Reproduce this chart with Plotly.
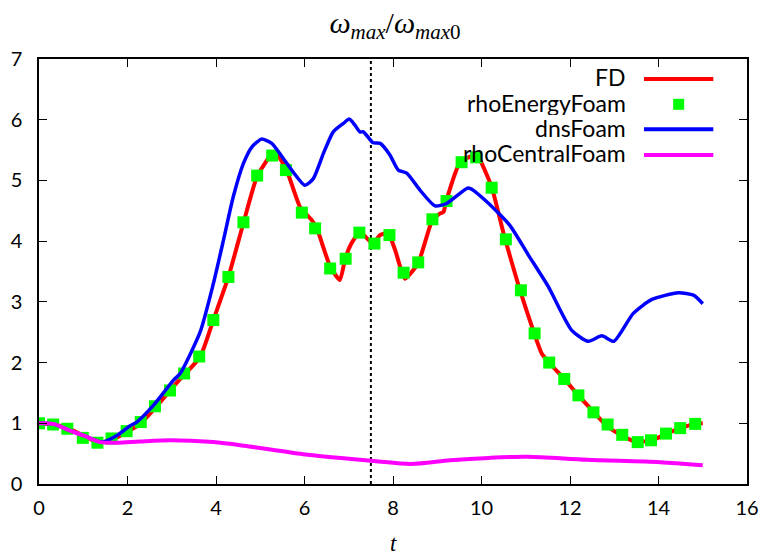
import plotly.graph_objects as go

# ---------------- data ----------------
fd_t = [0.0, 0.32, 0.65, 1.0, 1.35, 1.65, 2.0, 2.3, 2.62, 2.96, 3.19, 3.64, 3.94, 4.28, 4.62, 4.93,
        5.26, 5.37, 5.60, 5.90, 6.16, 6.28, 6.58, 6.80, 6.92, 7.05, 7.25, 7.45, 7.55, 7.71, 7.89,
        8.05, 8.27, 8.57, 8.89, 9.05, 9.14, 9.21, 9.51, 9.85, 9.97, 10.23, 10.53, 10.87, 11.2,
        11.36, 11.55, 11.87, 12.19, 12.53, 12.83, 13.17, 13.51, 13.85, 14.19, 14.5, 14.82, 15.0]
fd_v = [1.0, 0.98, 0.92, 0.80, 0.68, 0.73, 0.86, 1.0, 1.25, 1.54, 1.73, 2.09, 2.70, 3.41, 4.30, 5.07,
        5.43, 5.44, 5.16, 4.56, 4.35, 4.21, 3.58, 3.36, 3.71, 3.95, 4.15, 4.02, 3.96, 4.10, 4.13,
        3.85, 3.38, 3.64, 4.35, 4.45, 4.48, 4.68, 5.29, 5.42, 5.33, 4.89, 4.04, 3.19, 2.46,
        2.15, 1.98, 1.73, 1.46, 1.19, 0.96, 0.80, 0.69, 0.72, 0.83, 0.92, 0.99, 1.0]

rhoE_t = [0.0, 0.32, 0.64, 0.99, 1.32, 1.64, 1.98, 2.30, 2.62, 2.96, 3.28, 3.62, 3.94, 4.28, 4.62,
          4.93, 5.27, 5.58, 5.94, 6.24, 6.58, 6.93, 7.24, 7.58, 7.92, 8.24, 8.57, 8.89, 9.21, 9.55,
          9.88, 10.23, 10.55, 10.89, 11.20, 11.53, 11.87, 12.19, 12.53, 12.85, 13.18, 13.53, 13.83,
          14.17, 14.49, 14.83]
rhoE_v = [1.0, 0.98, 0.91, 0.76, 0.68, 0.75, 0.87, 1.02, 1.28, 1.54, 1.82, 2.10, 2.70, 3.41, 4.31,
          5.08, 5.41, 5.17, 4.47, 4.21, 3.55, 3.71, 4.14, 3.96, 4.10, 3.48, 3.65, 4.36, 4.66, 5.30,
          5.38, 4.88, 4.03, 3.19, 2.48, 2.00, 1.73, 1.46, 1.18, 0.98, 0.81, 0.69, 0.72, 0.83, 0.92,
          0.99]

dns_t = [0.0, 0.32, 0.70, 1.0, 1.42, 1.76, 2.06, 2.21, 2.58, 3.04, 3.19, 3.64, 3.94, 4.17, 4.39, 4.62,
         4.81, 5.03, 5.26, 5.60, 6.01, 6.20, 6.43, 6.65, 6.88, 7.01, 7.14, 7.25, 7.33, 7.55, 7.71,
         7.93, 8.12, 8.31, 8.61, 8.95, 9.21, 9.67, 9.74, 10.12, 10.64, 11.06, 11.51, 12.04, 12.41,
         12.72, 12.99, 13.43, 13.85, 14.45, 14.79, 15.0]
dns_v = [1.0, 0.99, 0.88, 0.80, 0.69, 0.80, 0.96, 1.02, 1.29, 1.71, 1.82, 2.50, 3.30, 4.02, 4.73, 5.28,
         5.55, 5.68, 5.61, 5.28, 4.92, 5.03, 5.45, 5.80, 5.94, 6.01, 5.91, 5.80, 5.80, 5.62, 5.61,
         5.42, 5.17, 5.12, 4.84, 4.58, 4.62, 4.87, 4.87, 4.65, 4.26, 3.77, 3.25, 2.53, 2.35,
         2.44, 2.35, 2.81, 3.04, 3.15, 3.11, 2.97]

rhoC_t = [0.0, 0.32, 0.70, 1.0, 1.38, 1.76, 2.28, 2.96, 3.94, 4.64, 5.97, 7.57, 8.40, 9.29, 10.17,
          11.05, 12.38, 14.03, 15.0]
rhoC_v = [1.0, 0.99, 0.88, 0.80, 0.69, 0.68, 0.70, 0.72, 0.69, 0.63, 0.49, 0.38, 0.33, 0.39, 0.43,
          0.45, 0.40, 0.36, 0.31]

x_ticks = [0, 2, 4, 6, 8, 10, 12, 14, 16]
y_ticks = [0, 1, 2, 3, 4, 5, 6, 7]
marker_t = 7.5

names = ["FD", "rhoEnergyFoam", "dnsFoam", "rhoCentralFoam"]
RED, GREEN, BLUE, MAG = "#ff0000", "#00ff00", "#0000ff", "#ff00ff"

# ---------------- figure ----------------
fig = go.Figure()
fig.add_trace(go.Scatter(x=fd_t, y=fd_v, mode="lines", name=names[0],
                         line=dict(color=RED, width=4, shape="spline", smoothing=0.5)))
fig.add_trace(go.Scatter(x=rhoE_t, y=rhoE_v, mode="markers", name=names[1],
                         marker=dict(symbol="square", size=12, color=GREEN, line=dict(width=0))))
fig.add_trace(go.Scatter(x=dns_t, y=dns_v, mode="lines", name=names[2],
                         line=dict(color=BLUE, width=3.5, shape="spline", smoothing=0.6)))
fig.add_trace(go.Scatter(x=rhoC_t, y=rhoC_v, mode="lines", name=names[3],
                         line=dict(color=MAG, width=4, shape="spline", smoothing=0.8)))

# dotted vertical line
fig.add_shape(type="line", x0=marker_t, x1=marker_t, y0=0, y1=7, xref="x", yref="y",
              line=dict(color="black", width=2, dash="dot"), layer="below")

# manual gnuplot-style legend (text right, sample left)
rows_y = [0.9529, 0.8934, 0.8346, 0.7741]
text_x = 0.8323
s_x0, s_x1 = 0.8545, 0.9524
sq_cx, sq_hw, sq_hh = 0.9035, 0.0078, 0.0129
colors = [RED, GREEN, BLUE, MAG]
for i, nm in enumerate(names):
    fig.add_annotation(x=text_x, y=rows_y[i] + 0.004, xref="paper", yref="paper", text=nm,
                       showarrow=False, xanchor="right", yanchor="middle", height=24,
                       valign="middle",
                       font=dict(family="Lato", size=23, color="black"))
    if i == 1:
        fig.add_shape(type="rect", xref="paper", yref="paper",
                      x0=sq_cx - sq_hw, x1=sq_cx + sq_hw,
                      y0=rows_y[i] - sq_hh, y1=rows_y[i] + sq_hh,
                      fillcolor=GREEN, line=dict(width=0))
    else:
        fig.add_shape(type="line", xref="paper", yref="paper", x0=s_x0, x1=s_x1,
                      y0=rows_y[i], y1=rows_y[i], line=dict(color=colors[i], width=4))

fig.add_annotation(x=0.5, y=-0.14, xref="paper", yref="paper", text="<i>t</i>",
                   showarrow=False, yanchor="middle",
                   font=dict(family="Liberation Serif", size=23, color="black"))

axis_common = dict(showline=True, linecolor="black", linewidth=1.5, mirror="ticks",
                   ticks="inside", ticklen=8, tickwidth=1, tickcolor="black",
                   showgrid=False, zeroline=False, automargin=False,
                   tickfont=dict(family="Lato", size=20, color="black"))

fig.update_layout(
    width=763, height=555,
    margin=dict(l=39, r=16, t=59, b=71),
    paper_bgcolor="white", plot_bgcolor="white",
    showlegend=False,
    title=dict(text="<i>ω</i><sub><i>max</i></sub>/<i>ω</i><sub><i>max</i>0</sub>",
               x=395 / 763, xanchor="center", y=1 - 22 / 555, yanchor="middle",
               font=dict(family="Liberation Serif", size=30, color="black"), automargin=False),
    xaxis=dict(range=[0, 16], tickvals=x_ticks, ticklabelstandoff=5, **axis_common),
    yaxis=dict(range=[0, 7], tickvals=y_ticks, ticklabelstandoff=11, **axis_common),
)

fig.write_html("out.html", config={"displayModeBar": False},
               post_script="document.body.style.margin='0';")
